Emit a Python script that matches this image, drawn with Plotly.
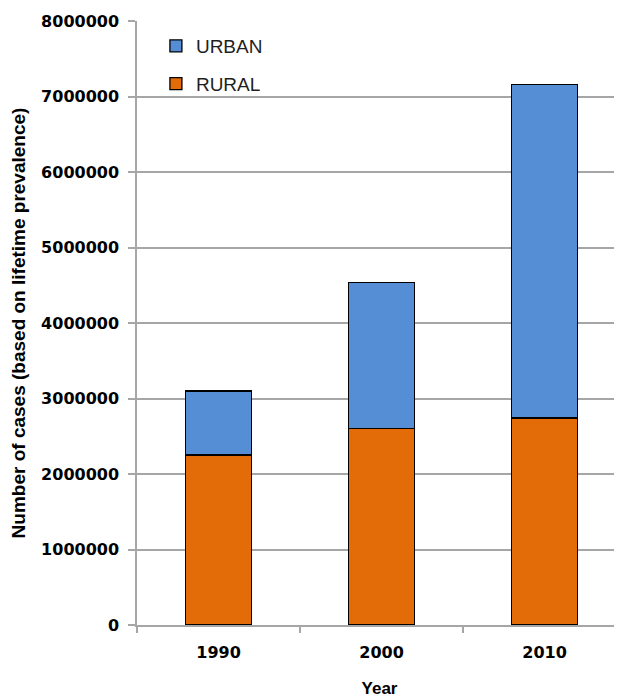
import plotly.graph_objects as go

years = ["1990", "2000", "2010"]
rural = [2250000, 2600000, 2740000]
urban = [850000, 1940000, 4420000]
y_ticks = [0, 1000000, 2000000, 3000000, 4000000, 5000000, 6000000, 7000000, 8000000]

fig = go.Figure()
fig.add_trace(go.Bar(x=years, y=rural, name="RURAL", legendgroup="r", legendrank=2,
                     marker=dict(color="#E36C09", line=dict(color="#000000", width=1.3)),
                     width=0.405))
fig.add_trace(go.Bar(x=years, y=urban, name="URBAN", legendgroup="u", legendrank=1,
                     marker=dict(color="#558ED5", line=dict(color="#000000", width=1.3)),
                     width=0.405))

# page body has an 8px margin, so margins are shifted to compensate
fig.update_layout(
    barmode="stack",
    width=622, height=699,
    margin=dict(l=129, r=8, t=13, b=82, autoexpand=False),
    plot_bgcolor="white", paper_bgcolor="white",
    showlegend=True,
    legend=dict(x=0.039, y=0.99, xanchor="left", yanchor="top",
                traceorder="grouped", tracegroupgap=10,
                font=dict(family="Liberation Sans", size=19, color="#1F1F1F"),
                bgcolor="rgba(0,0,0,0)"),
    xaxis=dict(type="category", range=[-0.5, 2.475], automargin=False,
               showline=True, linecolor="#A6A6A6", linewidth=1.5,
               ticks="outside", tickson="boundaries", ticklen=6, tickcolor="#A6A6A6", tickwidth=1.5,
               tickfont=dict(family="DejaVu Sans", size=16, color="#000000", weight="bold"),
               ticklabelstandoff=12,
               title=dict(text="Year", standoff=21,
                          font=dict(family="Liberation Sans", size=17, color="#000000", weight="bold"))),
    yaxis=dict(range=[0, 8000000], tickvals=y_ticks, ticktext=[str(v) for v in y_ticks],
               automargin=False,
               showgrid=True, gridcolor="#A6A6A6", gridwidth=1.5,
               showline=True, linecolor="#A6A6A6", linewidth=1.5,
               ticks="outside", ticklen=7, tickcolor="#A6A6A6", tickwidth=1.5,
               zeroline=False,
               tickfont=dict(family="DejaVu Sans", size=16, color="#000000", weight="bold"),
               ticklabelstandoff=6,
               title=dict(text="Number of cases (based on lifetime prevalence)", standoff=11,
                          font=dict(family="Liberation Sans", size=19, color="#000000", weight="bold"))),
)

fig.write_html("out.html")
